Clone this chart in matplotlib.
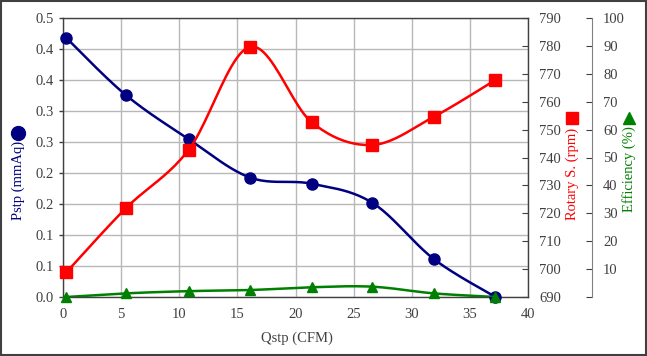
import numpy as np
import matplotlib
matplotlib.use("Agg")
import matplotlib.pyplot as plt
from matplotlib.lines import Line2D
from matplotlib.patches import Rectangle
from matplotlib.ticker import FormatStrFormatter

plt.rcParams["font.family"] = ["Liberation Serif", "DejaVu Serif"]

# data
qstp = [0.3, 5.4, 10.8, 16.1, 21.4, 26.6, 31.9, 37.2]
pstp = [0.464, 0.362, 0.283, 0.214, 0.203, 0.169, 0.068, 0.0]
rpm = [698.9, 721.8, 742.7, 779.7, 752.6, 744.5, 754.6, 767.8]
eff = [0.0, 1.3, 2.1, 2.5, 3.5, 3.7, 1.3, 0.0]

NAVY = "#000080"
RED = "#ff0000"
GREEN = "#008000"
TXT = "#404040"


def smooth(x, y, n=24):
    # Catmull-Rom / Bezier smoothing like a spreadsheet "smoothed line"
    p = np.column_stack([x, y]).astype(float)
    p = np.vstack([p[0], p, p[-1]])
    t = np.linspace(0, 1, n)[:, None]
    segs = []
    for i in range(1, len(p) - 2):
        p0, p1, p2, p3 = p[i - 1], p[i], p[i + 1], p[i + 2]
        c1 = p1 + (p2 - p0) / 6
        c2 = p2 - (p3 - p1) / 6
        segs.append((1 - t) ** 3 * p1 + 3 * (1 - t) ** 2 * t * c1
                    + 3 * (1 - t) * t ** 2 * c2 + t ** 3 * p2)
    s = np.vstack(segs)
    return s[:, 0], s[:, 1]


fig = plt.figure(figsize=(6.47, 3.56), dpi=100)
fig.patch.set_facecolor("white")
fig.add_artist(Rectangle((0.001, 0.002), 0.997, 0.995, transform=fig.transFigure,
                         fill=False, edgecolor="#404040", linewidth=1.5))

ax = fig.add_axes([63 / 647, 1 - 297 / 356, 465 / 647, 279 / 356])
ax2 = ax.twinx()
ax3 = ax.twinx()

# left axis: Pstp
ax.set_xlim(0, 40)
ax.set_ylim(0, 0.5)
ax.set_xticks(np.arange(0, 41, 5))
ax.set_yticks(np.linspace(0, 0.5, 10))
ax.yaxis.set_major_formatter(FormatStrFormatter("%.1f"))
ax.grid(True, color="#b8b8b8", linewidth=1.0)
ax.set_axisbelow(True)
ax.tick_params(axis="both", colors=TXT, labelsize=10.5, length=3, width=1)
ax.tick_params(axis="x", length=0, pad=8)
for s in ax.spines.values():
    s.set_color("#404040")
    s.set_linewidth(1.0)

xs, ys = smooth(qstp, pstp)
ax.plot(xs, ys, color=NAVY, linewidth=1.8, zorder=3)
ax.plot(qstp, pstp, linestyle="none", marker="o", markersize=8,
        color=NAVY, zorder=4, clip_on=False)

# right axis: rotary speed
ax2.set_ylim(690, 790)
ax2.set_yticks(np.arange(690, 791, 10))
ax2.tick_params(axis="y", colors=TXT, labelsize=10.5, direction="in", length=4, pad=8)
for s in ax2.spines.values():
    s.set_visible(False)
xs, ys = smooth(qstp, rpm)
ax2.plot(xs, ys, color=RED, linewidth=1.8, zorder=3)
ax2.plot(qstp, rpm, linestyle="none", marker="s", markersize=8,
         color=RED, zorder=4, clip_on=False)

# far right axis: efficiency
ax3.set_ylim(0, 100)
ax3.set_yticks(np.arange(0, 101, 10))
ax3.set_yticklabels([""] + [str(v) for v in range(10, 101, 10)])
for s in ax3.spines.values():
    s.set_visible(False)
ax3.spines["right"].set_visible(True)
ax3.spines["right"].set_position(("axes", 1.1376))
ax3.spines["right"].set_color("#808080")
ax3.tick_params(axis="y", colors=TXT, labelsize=10.5, direction="in", length=4, pad=8)
ax3.tick_params(axis="y", which="both", color="#404040")
xs, ys = smooth(qstp, eff)
ax3.plot(xs, ys, color=GREEN, linewidth=1.8, zorder=3)
ax3.plot(qstp, eff, linestyle="none", marker="^", markersize=7,
         color=GREEN, zorder=4, clip_on=False)

# axis titles with their series symbols
fig.text(297 / 647, 1 - 338 / 356, "Qstp (CFM)", ha="center", va="center",
         fontsize=10.5, color=TXT)
fig.text(18 / 647, 1 - 180 / 356, "Pstp (mmAq)", rotation=90, ha="center",
         va="center", fontsize=10.5, color=NAVY)
fig.add_artist(Line2D([18 / 647], [1 - 133 / 356], transform=fig.transFigure,
                      marker="o", markersize=10, color=NAVY, linestyle="none"))
fig.text(572 / 647, 1 - 174 / 356, "Rotary S. (rpm)", rotation=90, ha="center",
         va="center", fontsize=10.5, color=RED)
fig.add_artist(Line2D([572 / 647], [1 - 118 / 356], transform=fig.transFigure,
                      marker="s", markersize=9, color=RED, linestyle="none"))
fig.text(629 / 647, 1 - 169 / 356, "Efficiency (%)", rotation=90, ha="center",
         va="center", fontsize=10.5, color=GREEN)
fig.add_artist(Line2D([629 / 647], [1 - 118 / 356], transform=fig.transFigure,
                      marker="^", markersize=9, color=GREEN, linestyle="none"))

fig.savefig("out.png", dpi=100, facecolor="white")
